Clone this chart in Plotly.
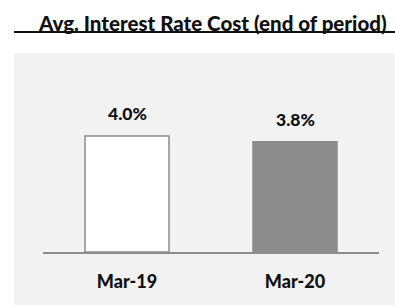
import plotly.graph_objects as go

categories = ["Mar-19", "Mar-20"]
values = [4.0, 3.8]
labels = ["4.0%", "3.8%"]
title_text = "Avg. Interest Rate Cost (end of period)"

W, H = 395, 305
L, R, T, B = 43, 16, 107, 53
pw, ph = W - L - R, H - T - B

def px_x(x):
    return (x - L) / pw

def px_y(y):
    return (H - B - y) / ph

FONT = "Lato"
WEIGHT = 900

fig = go.Figure()
fig.add_trace(go.Bar(
    x=categories, y=values, width=0.5,
    marker=dict(color=["#ffffff", "#8c8c8c"],
                line=dict(color=["#8c8c8c", "#8c8c8c"], width=1.5)),
    hoverinfo="skip",
))

for c, v, t in zip(categories, values, labels):
    fig.add_annotation(x=c, y=v, text=t, showarrow=False,
                       yanchor="bottom", yshift=10,
                       font=dict(family=FONT, size=17.5, color="#111111", weight=WEIGHT))

fig.add_annotation(xref="paper", yref="paper", x=px_x(36), y=px_y(23),
                   xanchor="left", yanchor="middle", showarrow=False,
                   text=title_text,
                   font=dict(family=FONT, size=20.5, color="#111111", weight=WEIGHT))

fig.add_shape(type="rect", xref="paper", yref="paper", layer="below",
              x0=px_x(14), x1=px_x(396), y0=px_y(53), y1=px_y(306),
              fillcolor="#f2f2f2", line=dict(width=0))
fig.add_shape(type="line", xref="paper", yref="paper",
              x0=px_x(14), x1=px_x(395), y0=px_y(32), y1=px_y(32),
              line=dict(color="#111111", width=2))

fig.update_layout(
    width=W, height=H,
    margin=dict(l=L, r=R, t=T, b=B, pad=0),
    paper_bgcolor="#ffffff", plot_bgcolor="rgba(0,0,0,0)",
    showlegend=False,
    xaxis=dict(range=[-0.5, 1.5], showline=True, linecolor="#8c8c8c", linewidth=1.5,
               ticks="outside", ticklen=13, tickcolor="rgba(0,0,0,0)",
               showgrid=False, zeroline=False,
               tickfont=dict(family=FONT, size=18, color="#111111", weight=WEIGHT),
               fixedrange=True),
    yaxis=dict(range=[0, 5], visible=False, fixedrange=True),
)

fig.write_html("out.html", config={"displayModeBar": False},
               post_script="document.body.style.margin='0';document.body.style.overflow='hidden';")
